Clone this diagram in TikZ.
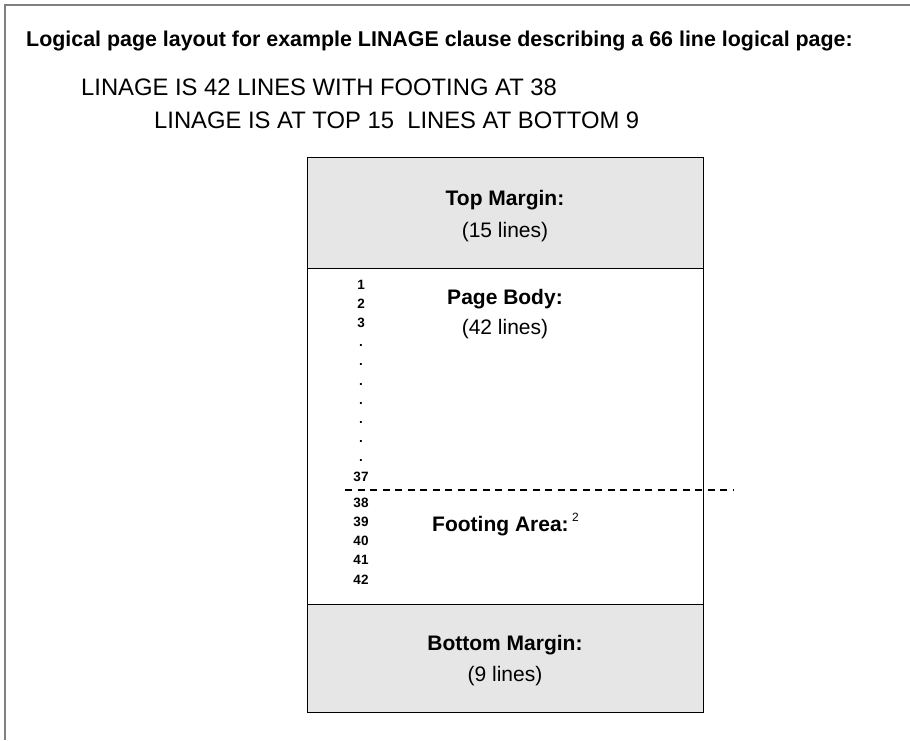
\documentclass[tikz,border=0pt]{standalone}
\usepackage{fontspec}
\setmainfont{Liberation Sans}
\usetikzlibrary{positioning}
\definecolor{framegray}{RGB}{128,128,128}
\definecolor{margingray}{RGB}{230,230,230}
\tikzset{
  region/.style={draw=black, line width=1.3pt, minimum width=396pt, inner sep=0pt, anchor=north west},
  marginbox/.style={region, fill=margingray},
  heading/.style={font=\fontsize{21}{25}\selectfont\bfseries, anchor=base, inner sep=0pt},
  count/.style={font=\fontsize{21}{25}\selectfont, anchor=base, inner sep=0pt},
  lineno/.style={font=\fontsize{13.5}{16}\selectfont\bfseries, anchor=base, inner sep=0pt},
  clause/.style={font=\fontsize{23.8}{28}\selectfont, anchor=base west, inner sep=0pt},
  footline/.style={dash pattern=on 7pt off 5.5pt, line width=1.3pt},
}
\begin{document}
\begin{tikzpicture}[x=1pt,y=-1pt]
\useasboundingbox (0,0) rectangle (910,740);
% frame
\draw[framegray, line width=2pt] (910,5) -- (5,5) -- (5,740);

% heading and clause text
\node[font=\fontsize{21.4}{25}\selectfont\bfseries, anchor=base west, inner sep=0pt] (title) at (26,46)
  {Logical page layout for example LINAGE clause describing a 66 line logical page:};
\node[clause] (clauseA) at (81,95) {LINAGE IS 42 LINES WITH FOOTING AT 38};
\node[clause] (clauseB) at (154,128) {LINAGE IS AT TOP 15~\ LINES AT BOTTOM 9};

% the logical page
\node[marginbox, minimum height=111pt] (top) at (307,157) {};
\node[region, minimum height=336pt] (body) at (307,268) {};
\node[marginbox, minimum height=108pt] (bottom) at (307,604) {};

\node[heading] (topLabel) at (505,205.5) {Top Margin:};
\node[count] (topCount) at (505,237.5) {(15 lines)};
\node[heading] (bodyLabel) at (505,304.5) {Page Body:};
\node[count] (bodyCount) at (505,334.5) {(42 lines)};
\node[heading, anchor=base west] (footLabel) at (432,531)
  {Footing Area:{\fontsize{12}{14}\selectfont\mdseries\ \raisebox{10pt}{2}}};
\node[heading] (bottomLabel) at (505,650.5) {Bottom Margin:};
\node[count] (bottomCount) at (505,681.5) {(9 lines)};

% line numbers
\foreach \n [count=\k from 0] in {1,2,3,{.},{.},{.},{.},{.},{.},{.},37}
  \node[lineno] (row\k) at (361,289+19.2*\k) {\n};
\foreach \n [count=\k from 0] in {38,...,42}
  \node[lineno] (row\n) at (361,507+19.25*\k) {\n};

% footing boundary
\coordinate (dashL) at (345,490);
\coordinate (dashR) at (733,490);
\draw[footline] (dashL) -- (dashR);
\end{tikzpicture}
\end{document}
